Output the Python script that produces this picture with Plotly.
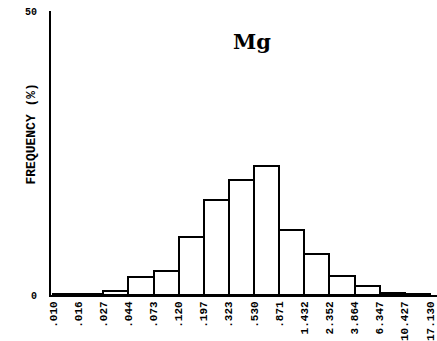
import plotly.graph_objects as go

edges = [".010", ".016", ".027", ".044", ".073", ".120", ".197", ".323", ".530",
         ".871", "1.432", "2.352", "3.864", "6.347", "10.427", "17.130"]
freq = [0.1, 0.15, 0.75, 3.1, 4.2, 10.3, 16.7, 20.3, 22.8, 11.5, 7.3, 3.3, 1.5, 0.4, 0.15]
element = "Mg"

n = len(freq)
centers = [i + 0.5 for i in range(n)]

fig = go.Figure()
fig.add_trace(go.Bar(
    x=centers, y=freq, width=1.0,
    marker=dict(color="white", line=dict(color="black", width=2)),
    showlegend=False,
))

mono = "Liberation Mono"
fig.update_layout(
    width=437, height=341,
    margin=dict(l=51, r=0, t=11, b=46),
    paper_bgcolor="white", plot_bgcolor="white",
    bargap=0,
    xaxis=dict(
        range=[-0.08, 15.28],
        tickmode="array", tickvals=list(range(len(edges))), ticktext=edges,
        tickangle=-90, ticks="", showgrid=False, zeroline=False,
        showline=True, linecolor="black", linewidth=2,
        tickfont=dict(family=mono, size=11, color="black", weight="bold"),
    ),
    yaxis=dict(
        range=[0, 50], tickmode="array", tickvals=[0, 50], ticktext=["0", "50"],
        ticks="", showgrid=False, zeroline=False,
        showline=True, linecolor="black", linewidth=2,
        tickfont=dict(family=mono, size=10, color="black", weight="bold"),
        ticklabelstandoff=10,
    ),
    annotations=[
        dict(text="<b>FREQUENCY (%)</b>", textangle=-90, xref="paper", yref="paper",
             x=(21 - 51) / 386, y=(295 - 134) / 284, showarrow=False,
             font=dict(family=mono, size=13, color="black")),
        dict(text="<b>" + element + "</b>", xref="paper", yref="paper",
             x=(252 - 51) / 386, y=(295 - 27) / 284, showarrow=False,
             font=dict(family="DejaVu Serif", size=21, color="black")),
    ],
)

fig.write_html("out.html")
